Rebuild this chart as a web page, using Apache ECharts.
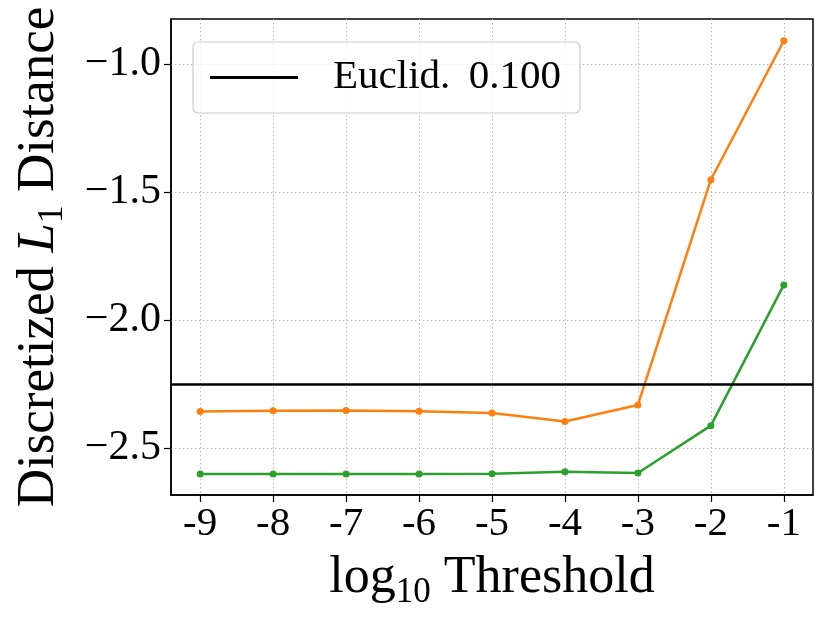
<!DOCTYPE html>
<html>
<head>
<meta charset="utf-8">
<script src="https://cdn.jsdelivr.net/npm/echarts@6/dist/echarts.min.js"></script>
<style>
  html, body { margin: 0; padding: 0; background: #fff; }
  #chart { width: 830px; height: 623px; }
</style>
</head>
<body>
<div id="chart"></div>
<script>
/**横轴：log10 阈值 */
let thresholds = [-9, -8, -7, -6, -5, -4, -3, -2, -1];
/**两条曲线 */
let orangeVals = [-2.358, -2.355, -2.354, -2.357, -2.364, -2.397, -2.332, -1.452, -0.909];
let greenVals = [-2.602, -2.602, -2.602, -2.602, -2.601, -2.593, -2.598, -2.413, -1.863];
/**参考线 */
let euclidName = 'Euclid.\u2009 0.100';
let euclidVal = -2.245;
/**纵轴刻度 */
let yTicks = [-2.5, -2.0, -1.5, -1.0];

let serif = '"Liberation Serif", "DejaVu Serif", serif';

let chartDom = document.getElementById('chart');
let chart = echarts.init(chartDom);

let pairs = vals => thresholds.map((x, i) => [x, vals[i]]);

let option = {
  animation: false,
  backgroundColor: '#fff',
  grid: {
    left: 171, right: 17, top: 19, bottom: 128,
    show: true, borderColor: '#000', borderWidth: 1.5,
    containLabel: false
  },
  legend: {
    left: 193, top: 42,
    data: [{ name: euclidName, icon: 'rect' }],
    itemWidth: 88, itemHeight: 3,
    padding: [15, 19, 15, 17],
    borderColor: '#cccccc', borderWidth: 1.2, borderRadius: 5,
    backgroundColor: 'rgba(255,255,255,0.8)',
    textStyle: { fontFamily: serif, fontSize: 41, color: '#000', padding: [0, 0, 0, 30] },
    itemStyle: { color: '#000' }
  },
  xAxis: {
    type: 'value',
    min: -9.4, max: -0.6,
    name: '{a|log}{s|10}{a| Threshold}',
    nameLocation: 'middle',
    nameGap: 52,
    nameTextStyle: {
      rich: {
        a: { fontFamily: serif, fontSize: 52, color: '#000' },
        s: { fontFamily: serif, fontSize: 35, color: '#000', padding: [28, 0, 0, 0] }
      }
    },
    axisLine: { show: true, lineStyle: { color: '#000', width: 1.5 } },
    axisTick: { show: true, length: 7, lineStyle: { color: '#000', width: 1.2 }, customValues: thresholds },
    axisLabel: {
      customValues: thresholds,
      fontFamily: serif, fontSize: 41, color: '#000', margin: 9,
      formatter: v => String(v)
    },
    splitLine: { show: true, lineStyle: { color: '#b8b8b8', width: 1, type: [1.5, 2.5] } }
  },
  yAxis: {
    type: 'value',
    min: -2.684, max: -0.824,
    name: '{a|Discretized }{i|L}{s|1}{a| Distance}',
    nameLocation: 'middle',
    nameRotate: 90,
    nameGap: 100,
    nameTextStyle: {
      rich: {
        a: { fontFamily: serif, fontSize: 53, color: '#000' },
        i: { fontFamily: serif, fontSize: 53, color: '#000', fontStyle: 'italic' },
        s: { fontFamily: serif, fontSize: 36, color: '#000', padding: [28, 0, 0, 0] }
      }
    },
    axisLine: { show: true, lineStyle: { color: '#000', width: 1.5 } },
    axisTick: { show: true, length: 7, lineStyle: { color: '#000', width: 1.2 }, customValues: yTicks },
    axisLabel: {
      customValues: yTicks,
      fontFamily: serif, fontSize: 42, color: '#000', margin: 10,
      formatter: v => '\u2212' + Math.abs(v).toFixed(1)
    },
    splitLine: { show: true, lineStyle: { color: '#b8b8b8', width: 1, type: [1.5, 2.5] } }
  },
  series: [
    {
      name: 'orange', type: 'line',
      data: pairs(orangeVals),
      symbol: 'circle', symbolSize: 7,
      lineStyle: { color: '#ff7f0e', width: 2.5 },
      itemStyle: { color: '#ff7f0e' },
      z: 3
    },
    {
      name: 'green', type: 'line',
      data: pairs(greenVals),
      symbol: 'circle', symbolSize: 7,
      lineStyle: { color: '#2ca02c', width: 2.5 },
      itemStyle: { color: '#2ca02c' },
      z: 3
    },
    {
      name: euclidName, type: 'line',
      data: [],
      itemStyle: { color: '#000' },
      lineStyle: { color: '#000', width: 2.5 },
      markLine: {
        silent: true, symbol: 'none', label: { show: false },
        lineStyle: { color: '#000', width: 2.5, type: 'solid' },
        data: [{ yAxis: euclidVal }]
      },
      z: 4
    }
  ]
};

chart.setOption(option);
</script>
</body>
</html>
